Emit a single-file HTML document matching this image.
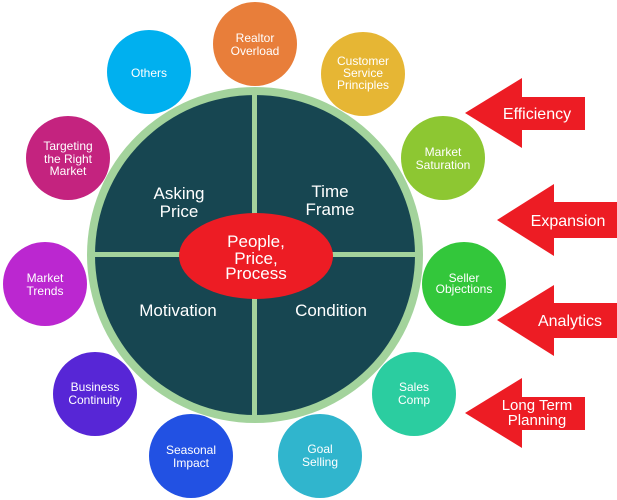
<!DOCTYPE html>
<html><head><style>body{margin:0;background:#fff}svg{display:block}text{font-family:"Liberation Sans",sans-serif;fill:#fff;text-anchor:middle}</style></head><body>
<svg width="617" height="500" viewBox="0 0 617 500">
<circle cx="255" cy="255" r="168" fill="#A3D39C"/>
<circle cx="255" cy="255" r="160" fill="#174651"/>
<rect x="252" y="95" width="5" height="320" fill="#A3D39C"/>
<rect x="95" y="252" width="320" height="5" fill="#A3D39C"/>
<ellipse cx="256" cy="256" rx="77" ry="43" fill="#ED1C24"/>
<g font-size="17">
<text x="179" y="199">Asking</text><text x="179" y="217">Price</text>
<text x="330" y="197">Time</text><text x="330" y="215">Frame</text>
<text x="178" y="316">Motivation</text><text x="331" y="316">Condition</text>
<text x="256" y="247">People,</text><text x="256" y="264">Price,</text><text x="256" y="279">Process</text>
</g>
<g font-size="12">
<circle cx="255" cy="44" r="42" fill="#E87E3A"/><text x="255" y="42">Realtor</text><text x="255" y="55">Overload</text>
<circle cx="149" cy="72" r="42" fill="#00B0EF"/><text x="149" y="77">Others</text>
<circle cx="363" cy="74" r="42" fill="#E6B634"/><text x="363" y="65">Customer</text><text x="363" y="77">Service</text><text x="363" y="89">Principles</text>
<circle cx="68" cy="158" r="42" fill="#C4237F"/><text x="68" y="150">Targeting</text><text x="68" y="163">the Right</text><text x="68" y="175">Market</text>
<circle cx="443" cy="158" r="42" fill="#8DC732"/><text x="443" y="156">Market</text><text x="443" y="169">Saturation</text>
<circle cx="45" cy="284" r="42" fill="#BB27D0"/><text x="45" y="282">Market</text><text x="45" y="295">Trends</text>
<circle cx="464" cy="284" r="42" fill="#33C73B"/><text x="464" y="282">Seller</text><text x="464" y="293">Objections</text>
<circle cx="95" cy="394" r="42" fill="#5726D6"/><text x="95" y="391">Business</text><text x="95" y="404">Continuity</text>
<circle cx="414" cy="394" r="42" fill="#2BCDA0"/><text x="414" y="391">Sales</text><text x="414" y="404">Comp</text>
<circle cx="191" cy="456" r="42" fill="#2251E3"/><text x="191" y="454">Seasonal</text><text x="191" y="467">Impact</text>
<circle cx="320" cy="456" r="42" fill="#30B5CD"/><text x="320" y="453">Goal</text><text x="320" y="466">Selling</text>
</g>
<g fill="#ED1C24">
<polygon points="465,113 522,78 522,97 585,97 585,130 522,130 522,148"/>
<polygon points="497,220 554,184 554,202 617,202 617,238 554,238 554,256"/>
<polygon points="497,320 554,285 554,303 617,303 617,338 554,338 554,356"/>
<polygon points="465,413 522,378 522,397 585,397 585,430 522,430 522,448"/>
</g>
<g font-size="16">
<text x="537" y="119">Efficiency</text>
<text x="568" y="226">Expansion</text>
<text x="570" y="326">Analytics</text>
<text x="537" y="410" font-size="15">Long Term</text><text x="537" y="425" font-size="15">Planning</text>
</g>
</svg>
</body></html>
